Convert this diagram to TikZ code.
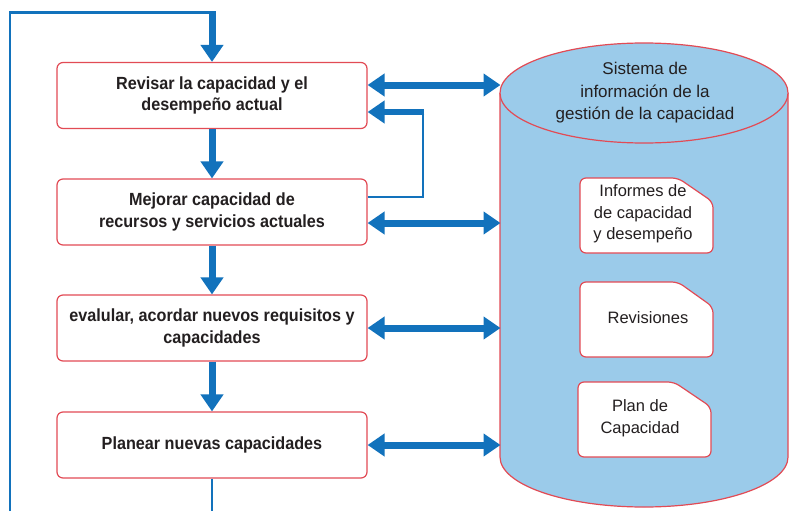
\documentclass[tikz,border=0pt]{standalone}
\usepackage{fontspec}
\setmainfont{Liberation Sans}
\newfontfamily\boxfont[FakeStretch=0.92]{Liberation Sans}
\usetikzlibrary{arrows.meta}
\definecolor{flowblue}{HTML}{1272BC}
\definecolor{dbfill}{HTML}{9BCBEA}
\definecolor{edgered}{HTML}{E24B55}
\definecolor{ink}{HTML}{231F20}
\tikzset{
  bigtip/.tip={Triangle[length=17pt,width=22pt]},
  stepbox/.style={draw=edgered, line width=1.2pt, fill=white, rounded corners=6pt,
    minimum width=310pt, minimum height=66pt, inner sep=0pt, align=center, text=ink,
    font=\boxfont\bfseries\fontsize{17.6}{21.5}\selectfont},
  flow/.style={draw=flowblue, line width=7pt, -{bigtip}},
  dbl/.style={draw=flowblue, line width=7pt, {bigtip}-{bigtip}},
  thinline/.style={draw=flowblue, line width=2.6pt},
  dbshape/.style={draw=edgered, line width=1.2pt, fill=dbfill},
  docshape/.style={draw=edgered, line width=1.2pt, fill=white, rounded corners=6pt},
  dbtext/.style={align=center, text=ink, inner sep=0pt, font=\fontsize{17}{22.5}\selectfont},
  doctext/.style={align=center, text=ink, inner sep=0pt, font=\fontsize{16.5}{21.5}\selectfont},
}
\begin{document}
\begin{tikzpicture}[x=1pt,y=-1pt]
\useasboundingbox[fill=white] (0,0) rectangle (789,511);

% database cylinder
\draw[dbshape] (500,93) -- (500,457) arc[start angle=180,end angle=0,x radius=144,y radius=50] -- (788,93);
\draw[dbshape] (644,93) ellipse [x radius=144, y radius=50];
\coordinate (dbedge) at (500.5,300);
\node[dbtext] (dbtitle) at (645,93) {Sistema de\\información de la\\gestión de la capacidad};

% documents stored in the database
\draw[docshape] (580,215) -- (580,178) -- (678,178) -- (713,202) -- (713,253) -- (580,253) -- cycle;
\node[doctext] (informes) at (643,214) {Informes de\\de capacidad\\y desempeño};
\draw[docshape] (580,320) -- (580,282) -- (678,282) -- (713,307) -- (713,357) -- (580,357) -- cycle;
\node[doctext] (revisiones) at (648,318) {Revisiones};
\draw[docshape] (578,420) -- (578,382) -- (674,382) -- (711,407) -- (711,457) -- (578,457) -- cycle;
\node[doctext] (plancap) at (640,418) {Plan de\\Capacidad};

% process steps
\node[stepbox] (rev) at (212,95.5) {Revisar la capacidad y el\\desempeño actual};
\node[stepbox] (mej) at (212,212) {Mejorar capacidad de\\recursos y servicios actuales};
\node[stepbox] (eva) at (212,328) {evalular, acordar nuevos requisitos y\\capacidades};
\node[stepbox] (pla) at (212,445) {Planear nuevas capacidades};

% main flow
\draw[flow] (rev.south) -- (mej.north);
\draw[flow] (mej.south) -- (eva.north);
\draw[flow] (eva.south) -- (pla.north);

% outer loop back to the first step
\coordinate (loopbot) at (10,511);
\coordinate (looptop) at (10,12.5);
\coordinate (feed) at (212,12.5);
\coordinate (outbot) at (212,511);
\draw[thinline] (loopbot) -- (looptop) -- (feed);
\draw[flow] ([yshift=1.3pt]feed) -- (rev.north);
\draw[thinline] (pla.south) -- (outbot);

% feedback from the second step to the first
\coordinate (fbA) at (423,197);
\coordinate (fbB) at (423,112);
\draw[thinline] (mej.east |- fbA) -- (fbA) -- (fbB);
\draw[flow, line width=6pt] ([xshift=1.3pt]fbB) -- (rev.east |- fbB);

% exchanges with the information system
\path ([yshift=10.5pt]rev.east) coordinate (r1);
\path ([yshift=-11pt]mej.east) coordinate (r2);
\draw[dbl] (r1) -- (r1 -| dbedge);
\draw[dbl] (r2) -- (r2 -| dbedge);
\draw[dbl] (eva.east) -- (eva.east -| dbedge);
\draw[dbl] (pla.east) -- (pla.east -| dbedge);
\end{tikzpicture}
\end{document}
